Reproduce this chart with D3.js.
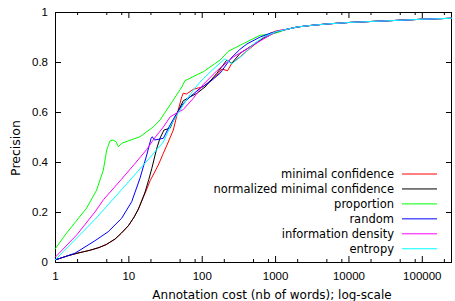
<!DOCTYPE html>
<html>
<head>
<meta charset="utf-8">
<script src="https://d3js.org/d3.v7.min.js"></script>
<style>
  body { margin: 0; background: #fff; }
  svg { display: block; font-family: "DejaVu Sans", sans-serif; }
</style>
</head>
<body>
<script>
// tick values / labels
const xTicks = [1, 10, 100, 1000, 10000, 100000];
const xTickLabels = ["1", "10", "100", "1000", "10000", "100000"];
const xMinorTicks = [2, 5, 8, 20, 50, 80, 200, 500, 800, 2000, 5000, 8000, 20000, 50000, 80000, 200000];
const yTicks = [0, 0.2, 0.4, 0.6, 0.8, 1];
const yTickLabels = ["0", "0.2", "0.4", "0.6", "0.8", "1"];

// series names (legend order) and colours
const names = ["minimal confidence", "normalized minimal confidence", "proportion", "random", "information density", "entropy"];
const colors = ["#ff0000", "#000000", "#00ff00", "#0000ff", "#ff00ff", "#00ffff"];

// common tail, all curves merge after ~1000 words
const tailCost = [1400, 2000, 3000, 5000, 10000, 20000, 50000, 100000, 258000];
const tailPrec = [0.93, 0.94, 0.946, 0.952, 0.958, 0.962, 0.967, 0.971, 0.975];

const minConfCost = [1, 1.5, 2, 3, 4, 5, 6.6, 8, 10, 12, 13.7, 15, 16.9, 19.8, 25.6, 30, 35, 41, 47, 53.5, 56, 62, 77, 105, 161, 188, 225, 257, 334, 457, 626, 857, 1050];
const minConfPrec = [0.008, 0.025, 0.035, 0.047, 0.058, 0.07, 0.092, 0.115, 0.145, 0.18, 0.212, 0.24, 0.275, 0.325, 0.388, 0.435, 0.48, 0.528, 0.6, 0.661, 0.675, 0.672, 0.691, 0.701, 0.748, 0.772, 0.765, 0.795, 0.821, 0.855, 0.888, 0.915, 0.925];

const normConfCost = [1, 1.5, 2, 3, 4, 5, 6.6, 8, 10, 12, 13.7, 15, 16.9, 19, 20.9, 24.4, 27, 30.6, 37, 41, 48, 56, 70, 86, 111, 161, 220, 257, 334, 457, 695, 951];
const normConfPrec = [0.008, 0.025, 0.035, 0.047, 0.058, 0.07, 0.092, 0.115, 0.145, 0.18, 0.212, 0.24, 0.28, 0.33, 0.375, 0.455, 0.495, 0.528, 0.535, 0.565, 0.605, 0.645, 0.661, 0.675, 0.70, 0.755, 0.808, 0.795, 0.835, 0.861, 0.895, 0.915];

const propCost = [1, 1.44, 2, 2.7, 3.7, 4.56, 5.07, 5.6, 6.2, 6.8, 7.3, 8.1, 14.4, 22, 27, 41, 53.5, 59, 95, 105, 178, 231, 334, 457, 626, 857, 1050];
const propPrec = [0.052, 0.116, 0.168, 0.216, 0.288, 0.368, 0.448, 0.484, 0.488, 0.481, 0.461, 0.475, 0.501, 0.541, 0.568, 0.648, 0.70, 0.725, 0.755, 0.761, 0.808, 0.843, 0.867, 0.887, 0.907, 0.911, 0.917];

const randomCost = [1, 1.87, 3.5, 5.3, 8.1, 11.1, 14.4, 17.8, 20.4, 21.2, 22.6, 27, 30, 37, 45.7, 56.3, 69.5, 95, 130, 178, 250, 330, 412, 500, 626, 857];
const randomPrec = [0.008, 0.035, 0.085, 0.121, 0.175, 0.241, 0.335, 0.428, 0.495, 0.501, 0.488, 0.492, 0.495, 0.548, 0.595, 0.635, 0.661, 0.695, 0.721, 0.755, 0.815, 0.85, 0.872, 0.885, 0.9, 0.915];

const densityCost = [1, 2, 3.5, 4.6, 8, 12, 17.8, 22, 30, 37, 45, 56, 77, 105, 161, 270, 457, 770, 1100];
const densityPrec = [0.018, 0.11, 0.2, 0.25, 0.33, 0.39, 0.45, 0.49, 0.54, 0.58, 0.595, 0.61, 0.655, 0.71, 0.765, 0.82, 0.86, 0.9, 0.925];

const entropyCost = [1, 3.5, 10, 20, 30, 37, 43, 62, 77, 95, 130, 207, 257, 370, 500, 700, 1000];
const entropyPrec = [0.008, 0.17, 0.32, 0.42, 0.48, 0.54, 0.575, 0.648, 0.688, 0.72, 0.76, 0.813, 0.793, 0.83, 0.87, 0.9, 0.92];

const costs = [minConfCost, normConfCost, propCost, randomCost, densityCost, entropyCost];
const precs = [minConfPrec, normConfPrec, propPrec, randomPrec, densityPrec, entropyPrec];

const series = names.map((name, i) => ({
    name: name,
    color: colors[i],
    points: costs[i].concat(tailCost).map((c, j) => ({ cost: c, prec: precs[i].concat(tailPrec)[j] }))
}));

// svg and plot area
const svg = d3.select("body").append("svg")
    .attr("width", 455)
    .attr("height", 301);
const margin = { top: 12, right: 3, bottom: 39, left: 55 };
const width = 455 - margin.left - margin.right;
const height = 301 - margin.top - margin.bottom;
const chart = svg.append("g").attr("transform", `translate(${margin.left},${margin.top})`);

const xScale = d3.scaleLog()
    .domain([1, d3.max(tailCost)])
    .range([0, width]);
const yScale = d3.scaleLinear()
    .domain([0, 1])
    .range([height, 0]);

// axes, gnuplot style: inward ticks, mirrored on top/right
function styleAxis(g) {
    g.select(".domain").remove();
    g.selectAll(".tick line").attr("stroke", "#000");
    g.selectAll("text").attr("fill", "#000").style("font-size", "11.5px");
}

chart.append("g")
    .attr("transform", `translate(0,${height})`)
    .call(d3.axisBottom(xScale).tickValues(xTicks).tickSize(-6).tickPadding(10)
        .tickFormat((d, i) => xTickLabels[i]))
    .call(styleAxis);
chart.append("g")
    .attr("transform", `translate(0,${height})`)
    .call(d3.axisBottom(xScale).tickValues(xMinorTicks).tickSize(-3).tickFormat(""))
    .call(styleAxis);
chart.append("g")
    .call(d3.axisTop(xScale).tickValues(xTicks).tickSize(-6).tickFormat(""))
    .call(styleAxis);
chart.append("g")
    .call(d3.axisTop(xScale).tickValues(xMinorTicks).tickSize(-3).tickFormat(""))
    .call(styleAxis);
chart.append("g")
    .call(d3.axisLeft(yScale).tickValues(yTicks).tickSize(-6).tickPadding(7)
        .tickFormat((d, i) => yTickLabels[i]))
    .call(styleAxis);
chart.append("g")
    .attr("transform", `translate(${width},0)`)
    .call(d3.axisRight(yScale).tickValues(yTicks).tickSize(-6).tickFormat(""))
    .call(styleAxis);

// border box
chart.append("rect")
    .attr("x", 0.5)
    .attr("y", 0.5)
    .attr("width", width - 1)
    .attr("height", height)
    .attr("fill", "none")
    .attr("stroke", "#000");

// lines
const line = d3.line()
    .x(d => xScale(d.cost))
    .y(d => yScale(d.prec));

chart.selectAll(".series")
    .data(series)
    .enter()
    .append("path")
    .attr("class", "series")
    .attr("fill", "none")
    .attr("stroke", d => d.color)
    .attr("stroke-width", 1)
    .attr("stroke-linejoin", "round")
    .attr("d", d => line(d.points));

// legend
const legend = svg.append("g").attr("transform", "translate(394,174)");
const rows = legend.selectAll("g")
    .data(series)
    .enter()
    .append("g")
    .attr("transform", (d, i) => `translate(0,${i * 14.95})`);
rows.append("text")
    .attr("text-anchor", "end")
    .attr("y", 4)
    .style("font-size", "11.5px")
    .text(d => d.name);
rows.append("line")
    .attr("x1", 8)
    .attr("x2", 43)
    .attr("y1", 0)
    .attr("y2", 0)
    .attr("stroke", d => d.color)
    .attr("stroke-width", 1);

// axis titles
svg.append("text")
    .attr("x", 272)
    .attr("y", 299)
    .attr("text-anchor", "middle")
    .style("font-size", "12px")
    .text("Annotation cost (nb of words); log-scale");
svg.append("text")
    .attr("transform", "translate(20,148) rotate(-90)")
    .attr("text-anchor", "middle")
    .style("font-size", "12.5px")
    .text("Precision");
</script>
</body>
</html>
